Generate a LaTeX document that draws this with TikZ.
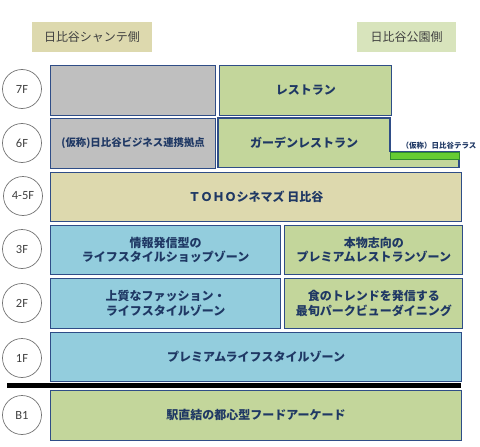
\documentclass[tikz,border=0pt]{standalone}
\usepackage{fontspec}
\setmainfont{Noto Sans CJK JP}
\newfontfamily\floorfont{Carlito}
\usepackage{tikz}
\usetikzlibrary{positioning}
\definecolor{colorBorder}{RGB}{47,77,135}
\definecolor{colorText}{RGB}{31,56,100}
\definecolor{colorGray}{RGB}{191,191,191}
\definecolor{colorGreen}{RGB}{195,214,155}
\definecolor{colorTan}{RGB}{221,217,174}
\definecolor{colorBlue}{RGB}{147,205,221}
\definecolor{colorParkTag}{RGB}{216,228,188}
\definecolor{colorTerrace}{RGB}{102,204,51}
\definecolor{colorTerraceLine}{RGB}{46,139,46}
\colorlet{colorFloor}{black!75}

\begin{document}
\begin{tikzpicture}[x=1pt, y=-1pt,
  zone/.style={draw=colorBorder, line width=1.2pt, text=colorText, font=\fontsize{12}{14.5}\selectfont\bfseries, align=center, inner sep=0pt, minimum height=49.5pt},
  floor/.style={circle, draw=black!55, line width=0.7pt, minimum size=39pt, inner sep=0pt, text=colorFloor, font=\floorfont\fontsize{12.5}{14}\selectfont},
  side/.style={minimum height=30pt, inner sep=0pt, text=colorFloor, font=\fontsize{12}{14}\selectfont}]
\useasboundingbox (0,0) rectangle (480,447);
\node[side, fill=colorTan, minimum width=120pt] (shante) at (92,37) {日比谷シャンテ側};
\node[side, fill=colorParkTag, minimum width=99pt] (park) at (406.5,37) {日比谷公園側};
\node[floor] (l7) at (22,89) {7F};
\node[floor] (l6) at (22,143) {6F};
\node[floor] (l45) at (23,196) {4-5F};
\node[floor] (l3) at (22,249) {3F};
\node[floor] (l2) at (22,303) {2F};
\node[floor] (l1) at (22,358) {1F};
\node[floor] (lb1) at (22,415) {B1};
\node[zone, fill=colorGray, anchor=north west, minimum width=165pt] (f7l) at (50,65) {};
\node[zone, fill=colorGreen, right=3pt of f7l, minimum width=172pt] (f7r) {レストラン};
\node[zone, fill=colorGray, anchor=north west, minimum width=165pt, font=\fontsize{10.4}{12}\selectfont\bfseries] (f6l) at (50,118) {(仮称)日比谷ビジネス連携拠点};
\draw[draw=colorBorder, line width=1.2pt, fill=colorGreen] (218,118) -- (390,118) -- (390,151.5) -- (459,151.5) -- (459,167.5) -- (218,167.5) -- cycle;
\node[zone, draw=none] (f6r) at (304,142.5) {ガーデンレストラン};
\node[draw=colorTerraceLine, fill=colorTerrace, line width=1pt, anchor=north west, minimum width=69pt, minimum height=7pt, inner sep=0pt] (bar) at (389.5,151.5) {};
\node[text=colorText, font=\fontsize{7.5}{9}\selectfont\bfseries, inner sep=0pt, above=2pt of bar, xshift=14.5pt] (terrace) {（仮称）日比谷テラス};
\node[zone, fill=colorTan, anchor=north west, minimum width=411pt] (f45) at (50,171.5) {ＴＯＨＯシネマズ 日比谷};
\node[zone, fill=colorBlue, anchor=north west, minimum width=230pt] (f3l) at (50,224.5) {情報発信型の\\ライフスタイルショップゾーン};
\node[zone, fill=colorGreen, right=3pt of f3l, minimum width=178pt] (f3r) {本物志向の\\プレミアムレストランゾーン};
\node[zone, fill=colorBlue, anchor=north west, minimum width=230pt] (f2l) at (50,278) {上質なファッション・\\ライフスタイルゾーン};
\node[zone, fill=colorGreen, right=3pt of f2l, minimum width=178pt] (f2r) {食のトレンドを発信する\\最旬パークビューダイニング};
\node[zone, fill=colorBlue, anchor=north west, minimum width=411pt] (f1) at (50,331.5) {プレミアムライフスタイルゾーン};
\draw[line width=4.5pt] (7,385.5) -- (461,385.5);
\node[zone, fill=colorGreen, anchor=north west, minimum width=411pt] (fb1) at (50,390) {駅直結の都心型フードアーケード};
\end{tikzpicture}
\end{document}
